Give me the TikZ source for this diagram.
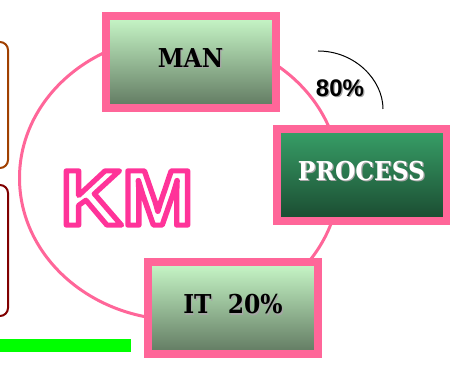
\documentclass[tikz,border=0pt]{standalone}
\usepackage{fontspec}
\setmainfont{Liberation Sans}
\newfontfamily\slabfont{DejaVu Serif Condensed}[BoldFont={* Bold}]
\usepackage{xcolor}
\usetikzlibrary{positioning}
\definecolor{rimpink}{RGB}{255,102,153}
\definecolor{kmpink}{RGB}{255,51,153}
\definecolor{paletop}{RGB}{200,248,200}
\definecolor{palebot}{RGB}{96,120,96}
\definecolor{deeptop}{RGB}{56,160,104}
\definecolor{deepbot}{RGB}{26,74,48}
\definecolor{rust}{RGB}{160,64,0}
\definecolor{maroon}{RGB}{128,0,0}
% hollow letters: white fill, pink stroke
\newcommand{\hollow}[1]{\special{pdf:literal 2 Tr 5 w 1 j 1 0.2 0.6 RG 1 1 1 rg}#1\special{pdf:literal 0 Tr 0 0 0 rg 0 0 0 RG}}
\newcommand{\shtxt}[2]{\makebox[0pt][l]{\hspace{1.2pt}\raisebox{-1.2pt}{\textcolor{gray!70}{#2}}}\textcolor{#1}{#2}}

\begin{document}
\begin{tikzpicture}[x=1pt, y=1pt,
  panel/.style={draw=rimpink, line width=8pt, minimum width=170pt, minimum height=92pt,
                inner sep=0pt, text height=19pt, text depth=8pt,
                font=\slabfont\bfseries\fontsize{26}{26}\selectfont},
  pale/.style={panel, top color=paletop, bottom color=palebot},
  deep/.style={panel, top color=deeptop, bottom color=deepbot}]
\useasboundingbox (0,0) rectangle (450,366);
% side frames, cut off by the page edge
\draw[rust, line width=2pt, rounded corners=8pt] (-30,324) rectangle (8,198);
\draw[maroon, line width=2pt, rounded corners=8pt] (-30,181) rectangle (8,50);
\fill[green] (0,14) rectangle (131,27);
\draw[rimpink, line width=3pt] (179.5,188) ellipse [x radius=160, y radius=142];
\node[font=\fontsize{79}{79}\selectfont\bfseries] (km) at (127,168) {\scalebox{1.08}[1]{\hollow{KM}}};
\node[pale] (man) at (190.5,304) {\shtxt{black}{MAN}};
\node[deep] (proc) at (361.5,191) {\shtxt{white}{PROCESS}};
\node[pale] (it) at (233,57.5) {\shtxt{black}{IT\ \ 20\%}};
\node[font=\fontsize{24}{24}\selectfont\bfseries] (share) at (340,277) {\shtxt{black}{80\%}};
\draw[black, line width=1pt] (318,315) .. controls (355,315) and (383,286) .. (383,257);
\end{tikzpicture}
\end{document}
